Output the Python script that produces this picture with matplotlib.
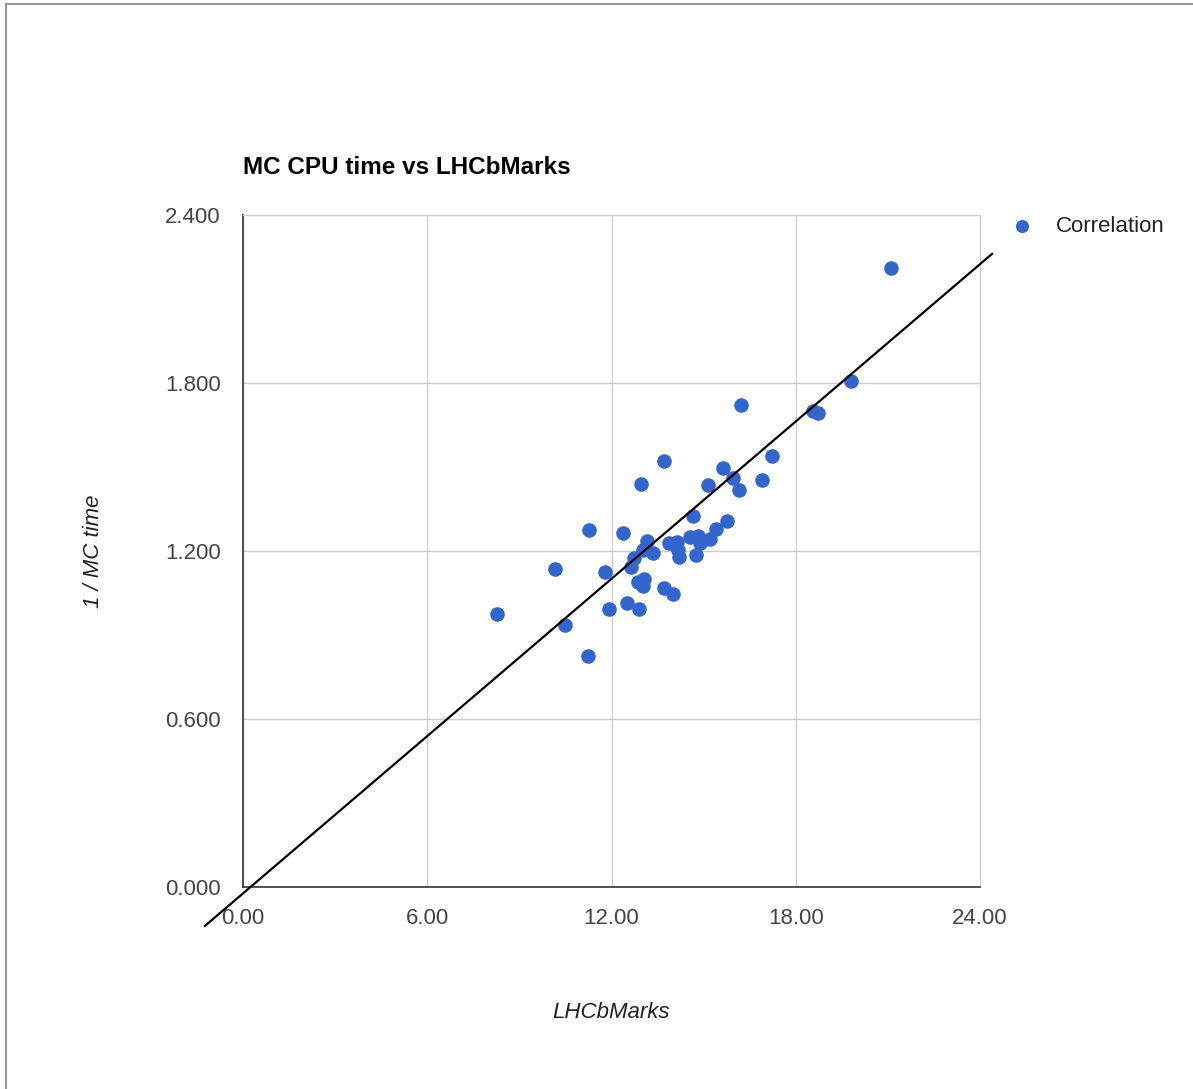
import matplotlib.pyplot as plt
from matplotlib.lines import Line2D

plt.rcParams['font.family'] = ['Liberation Sans', 'DejaVu Sans']

# LHCbMarks vs 1 / MC time
marks = [8.26, 10.15, 10.49, 11.27, 11.23, 11.79, 11.91, 12.37, 12.51, 12.91,
         12.97, 12.63, 12.74, 12.87, 13.06, 13.04, 13.15, 13.04, 13.34, 13.72,
         13.71, 13.99, 13.87, 14.12, 14.18, 14.21, 14.66, 14.56, 14.83, 14.75,
         14.88, 15.21, 15.40, 15.75, 15.15, 15.62, 15.95, 16.16, 16.89, 17.24,
         16.21, 18.57, 18.73, 19.80, 21.10]
inv_time = [0.974, 1.135, 0.936, 1.274, 0.826, 1.126, 0.992, 1.264, 1.013, 0.994,
            1.438, 1.144, 1.174, 1.090, 1.100, 1.075, 1.236, 1.204, 1.192, 1.521,
            1.067, 1.046, 1.228, 1.233, 1.204, 1.180, 1.325, 1.251, 1.254, 1.186,
            1.228, 1.242, 1.278, 1.308, 1.435, 1.495, 1.460, 1.418, 1.454, 1.539,
            1.721, 1.700, 1.694, 1.806, 2.212]

# hand drawn trend line endpoints (data units, goes past the axes)
trend_x = [-1.24, 24.39]
trend_y = [-0.139, 2.261]

xticks = [0, 6, 12, 18, 24]
yticks = [0, 0.6, 1.2, 1.8, 2.4]

fig = plt.figure(figsize=(11.93, 10.89), dpi=100)
ax = fig.add_axes([0.2037, 0.1855, 0.6178, 0.6171])

ax.scatter(marks, inv_time, s=110, color='#3366cc', zorder=3, label='Correlation',
           linewidths=0)
ax.plot(trend_x, trend_y, color='black', lw=1.6, clip_on=False, zorder=4)

ax.set_xlim(0, 24)
ax.set_ylim(0, 2.4)
ax.set_xticks(xticks)
ax.set_yticks(yticks)
ax.set_xticklabels([f'{v:.2f}' for v in xticks])
ax.set_yticklabels([f'{v:.3f}' for v in yticks])
ax.tick_params(length=0, labelsize=16, labelcolor='#444444', pad=16)
ax.tick_params(axis='x', pad=15)
ax.grid(True, color='#cccccc', lw=1)
ax.set_axisbelow(True)
for s in ['top', 'right']:
    ax.spines[s].set_color('#cccccc')
for s in ['left', 'bottom']:
    ax.spines[s].set_color('#333333')
    ax.spines[s].set_linewidth(1.2)

ax.set_xlabel('LHCbMarks', fontsize=16, style='italic', color='#222222', labelpad=53)
ax.set_ylabel('1 / MC time', fontsize=16, style='italic', color='#222222', labelpad=44)

fig.text(243 / 1193, 1 - 167 / 1089, 'MC CPU time vs LHCbMarks', fontsize=17.5,
         fontweight='bold', ha='left', va='center', color='black')

ax.legend(loc='upper left', bbox_to_anchor=(1.0, 1.028), frameon=False,
          fontsize=16, handletextpad=0.5, markerscale=0.9, labelcolor='#222222')

# page border
fig.add_artist(Line2D([6 / 1193, 1], [1 - 4 / 1089, 1 - 4 / 1089], color='#999999', lw=1.5))
fig.add_artist(Line2D([6 / 1193, 6 / 1193], [0, 1 - 4 / 1089], color='#999999', lw=1.5))

fig.savefig('out.png', dpi=100)
